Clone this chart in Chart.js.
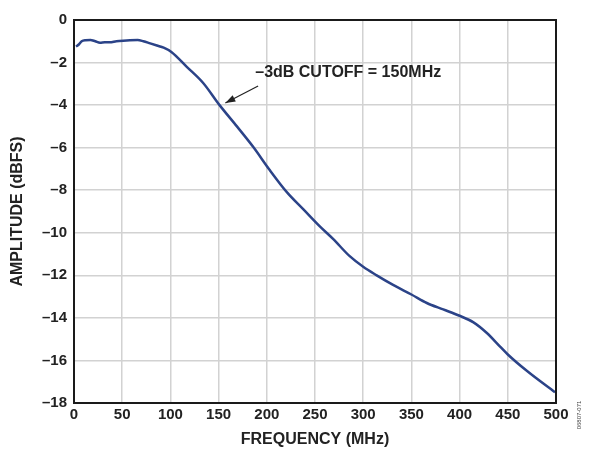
<!DOCTYPE html>
<html>
<head>
<meta charset="utf-8">
<script src="https://cdn.jsdelivr.net/npm/chart.js@4"></script>
<style>
html,body{margin:0;padding:0;background:#fff;}
#wrap{width:594px;height:452px;position:relative;}
</style>
</head>
<body>
<div id="wrap"><canvas id="c" width="594" height="452"></canvas></div>
<script>
// Data
const freqMHz = [2, 5, 8, 12, 17, 22, 27, 32, 37, 44, 51, 58, 66, 72, 79, 86, 93, 101, 117, 134, 151, 169, 186, 203, 221, 238, 255, 269, 286, 300, 314, 331, 350, 366, 383, 400, 414, 428, 442, 450, 470, 499];
const amplitudeDBFS = [-1.25, -1.15, -1.0, -0.95, -0.94, -1.0, -1.07, -1.05, -1.05, -1.0, -0.97, -0.95, -0.94, -1.0, -1.1, -1.2, -1.3, -1.5, -2.2, -2.96, -4.0, -5.0, -5.97, -7.05, -8.1, -8.9, -9.7, -10.3, -11.1, -11.6, -12.0, -12.45, -12.9, -13.3, -13.6, -13.9, -14.2, -14.7, -15.35, -15.72, -16.5, -17.5];
const xTicks = [0, 50, 100, 150, 200, 250, 300, 350, 400, 450, 500];
const yTicks = [0, -2, -4, -6, -8, -10, -12, -14, -16, -18];
const annotationText = "\u20133dB CUTOFF = 150MHz";
const annotationLabelAt = [188, -2.48];
const arrowTail = [191, -3.1];
const arrowTip = [157, -3.9];
const figureCode = "06807-071";

const points = freqMHz.map((f, i) => ({x: f, y: amplitudeDBFS[i]}));
const FONT = "'Liberation Sans', Arial, sans-serif";
const fmt = v => (v < 0 ? "\u2013" + Math.abs(v) : String(v));

const annotPlugin = {
  id: 'annot',
  afterDatasetsDraw(chart) {
    const {ctx, scales: {x, y}} = chart;
    ctx.save();
    ctx.font = "bold 16px " + FONT;
    ctx.fillStyle = "#222";
    ctx.textAlign = "left";
    ctx.textBaseline = "middle";
    ctx.fillText(annotationText, x.getPixelForValue(annotationLabelAt[0]), y.getPixelForValue(annotationLabelAt[1]));
    const x1 = x.getPixelForValue(arrowTail[0]), y1 = y.getPixelForValue(arrowTail[1]);
    const x2 = x.getPixelForValue(arrowTip[0]), y2 = y.getPixelForValue(arrowTip[1]);
    ctx.strokeStyle = "#222";
    ctx.lineWidth = 1.2;
    ctx.beginPath(); ctx.moveTo(x1, y1); ctx.lineTo(x2, y2); ctx.stroke();
    const a = Math.atan2(y2 - y1, x2 - x1), L = 10, W = 3.5;
    ctx.beginPath();
    ctx.moveTo(x2, y2);
    ctx.lineTo(x2 - L*Math.cos(a) + W*Math.sin(a), y2 - L*Math.sin(a) - W*Math.cos(a));
    ctx.lineTo(x2 - L*Math.cos(a) - W*Math.sin(a), y2 - L*Math.sin(a) + W*Math.cos(a));
    ctx.closePath(); ctx.fillStyle = "#222"; ctx.fill();
    ctx.translate(579, 415);
    ctx.rotate(-Math.PI/2);
    ctx.font = "6px " + FONT;
    ctx.textAlign = "center";
    ctx.fillStyle = "#444";
    ctx.fillText(figureCode, 0, 0);
    ctx.restore();
  },
  afterDraw(chart) {
    const {ctx, chartArea: a} = chart;
    ctx.save();
    ctx.strokeStyle = "#1a1a1a";
    ctx.lineWidth = 2;
    ctx.strokeRect(a.left, a.top, a.right - a.left, a.bottom - a.top);
    ctx.restore();
  }
};

new Chart(document.getElementById('c'), {
  type: 'line',
  data: {
    datasets: [{
      data: points,
      borderColor: '#2b4388',
      borderWidth: 2.5,
      pointRadius: 0,
      fill: false,
      cubicInterpolationMode: 'monotone'
    }]
  },
  options: {
    responsive: false,
    animation: false,
    layout: {padding: {left: 0, top: 20, right: 38, bottom: 0}},
    plugins: {legend: {display: false}, tooltip: {enabled: false}},
    scales: {
      x: {
        type: 'linear', min: 0, max: 500,
        afterBuildTicks: s => { s.ticks = xTicks.map(v => ({value: v})); },
        afterFit: s => { s.height = 49; },
        grid: {color: '#d2d2d2', lineWidth: 1.5, drawTicks: false},
        border: {display: false},
        ticks: {color: '#222', font: {family: FONT, size: 15, weight: 'bold'}, padding: 3, maxRotation: 0, callback: v => fmt(v)},
        title: {display: true, text: 'FREQUENCY (MHz)', color: '#222', font: {family: FONT, size: 16, weight: 'bold'}, padding: {top: 0, bottom: 3}}
      },
      y: {
        type: 'linear', min: -18, max: 0,
        afterBuildTicks: s => { s.ticks = yTicks.map(v => ({value: v})); },
        afterFit: s => { s.width = 74; },
        grid: {color: '#d2d2d2', lineWidth: 1.5, drawTicks: false},
        border: {display: false},
        ticks: {color: '#222', font: {family: FONT, size: 15, weight: 'bold'}, padding: 7, callback: v => fmt(v)},
        title: {display: true, text: 'AMPLITUDE (dBFS)', color: '#222', font: {family: FONT, size: 16, weight: 'bold'}, padding: {top: 8, bottom: 0}}
      }
    }
  },
  plugins: [annotPlugin]
});
</script>
</body>
</html>
